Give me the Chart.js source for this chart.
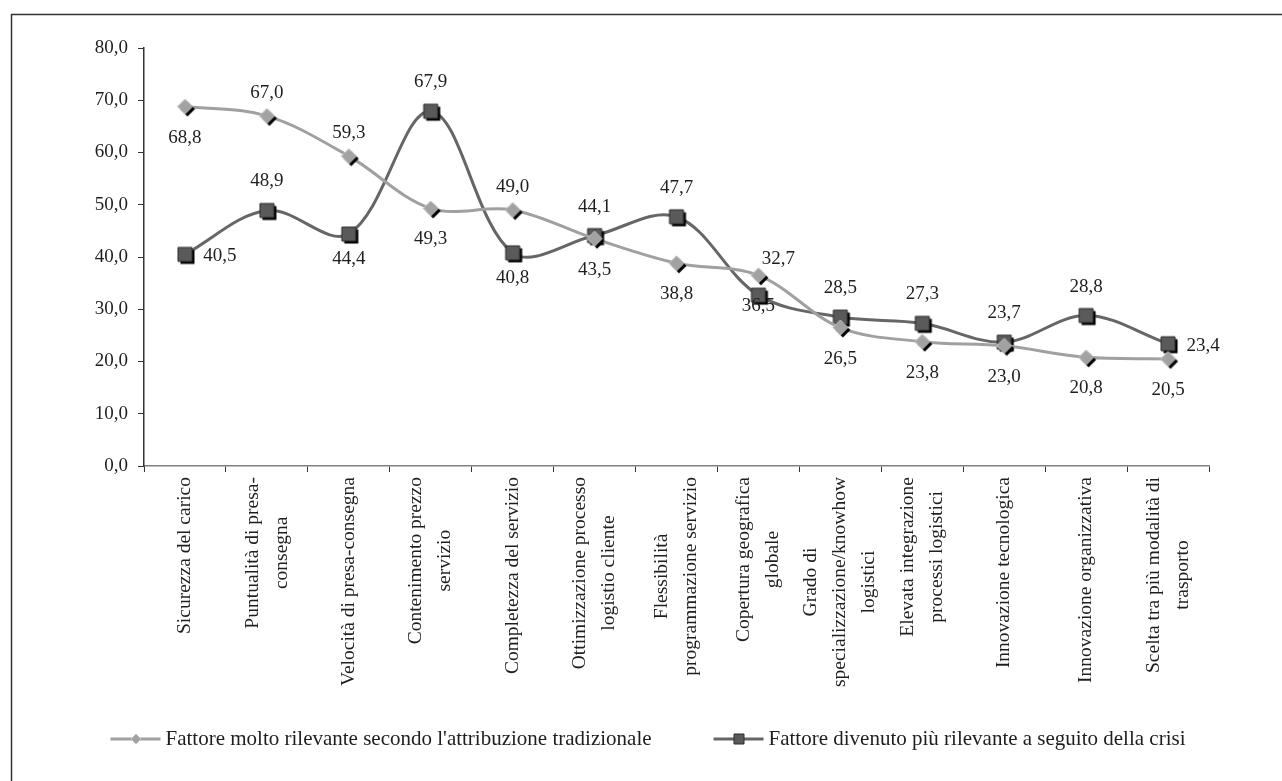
<!DOCTYPE html>
<html lang="it">
<head>
<meta charset="utf-8">
<title>Fattori di rilevanza del servizio logistico</title>
<script src="https://cdn.jsdelivr.net/npm/chart.js@4.4.1/dist/chart.umd.min.js"></script>
<style>
  html, body { margin: 0; padding: 0; background: #fff; }
  canvas { display: block; }
</style>
</head>
<body>
<canvas id="chart" width="1282" height="781"></canvas>
<script>
const categories = [
    'Sicurezza del carico',
    ['Puntualità di presa-', 'consegna'],
    'Velocità di presa-consegna',
    ['Contenimento prezzo', 'servizio'],
    'Completezza del servizio',
    ['Ottimizzazione processo', 'logistio cliente'],
    ['Flessibilità', 'programmazione servizio'],
    ['Copertura geografica', 'globale'],
    ['Grado di', 'specializzazione/knowhow', 'logistici'],
    ['Elevata integrazione', 'processi logistici'],
    'Innovazione tecnologica',
    'Innovazione organizzativa',
    ['Scelta tra più modalità di', 'trasporto']
];

const seriesNames = [
    "Fattore molto rilevante secondo l'attribuzione tradizionale",
    'Fattore divenuto più rilevante a seguito della crisi'
];

const traditional = [68.8, 67.0, 59.3, 49.3, 49.0, 43.5, 38.8, 36.5, 26.5, 23.8, 23.0, 20.8, 20.5];
const afterCrisis = [40.5, 48.9, 44.4, 67.9, 40.8, 44.1, 47.7, 32.7, 28.5, 27.3, 23.7, 28.8, 23.4];

const yMin = 0;
const yMax = 80;
const yStep = 10;

// where each value label sits relative to its marker
const traditionalLabelPos = ['below', 'above', 'above', 'below', 'above', 'below', 'below',
    'below', 'below', 'below', 'below', 'below', 'below'];
const afterCrisisLabelPos = ['right', 'above', 'below', 'above', 'below', 'above', 'above',
    'aboveRight', 'above', 'above', 'above', 'above', 'right'];

const SERIF = '"Liberation Serif", "Times New Roman", Times, serif';
const TEXT = '#1e1e1e';

const fmt = v => v.toFixed(1).replace('.', ',');

// marker sprite with the hard black drop shadow
function makeMarker(shape, half, fill, stroke, shadow) {
    const c = document.createElement('canvas');
    const size = half * 2 + 10;
    c.width = size;
    c.height = size;
    const g = c.getContext('2d');
    const m = size / 2;
    const path = (cx, cy) => {
        g.beginPath();
        if (shape === 'diamond') {
            g.moveTo(cx, cy - half);
            g.lineTo(cx + half, cy);
            g.lineTo(cx, cy + half);
            g.lineTo(cx - half, cy);
        } else {
            g.rect(cx - half, cy - half, half * 2, half * 2);
        }
        g.closePath();
    };
    if (shadow) {
        path(m + 2.5, m + 2.5);
        g.fillStyle = '#000';
        g.fill();
    }
    path(m, m);
    g.fillStyle = fill;
    g.fill();
    g.lineWidth = 1;
    g.strokeStyle = stroke;
    g.stroke();
    return c;
}

const diamondMarker = makeMarker('diamond', 7.5, '#a2a2a2', '#c6c6c6', true);
const squareMarker = makeMarker('square', 7, '#5a5a5a', '#2c2c2c', true);
const diamondSmall = makeMarker('diamond', 5, '#a2a2a2', '#c6c6c6', false);
const squareSmall = makeMarker('square', 5, '#5a5a5a', '#2c2c2c', false);

const frame = {
    id: 'frame',
    beforeDraw(chart) {
        const ctx = chart.ctx;
        ctx.save();
        ctx.fillStyle = '#fff';
        ctx.fillRect(0, 0, chart.width, chart.height);
        ctx.strokeStyle = '#333';
        ctx.lineWidth = 1.5;
        ctx.strokeRect(11.5, 14.5, chart.width + 20, chart.height + 20);
        ctx.restore();
    }
};

const valueLabels = {
    id: 'valueLabels',
    afterDatasetsDraw(chart) {
        const ctx = chart.ctx;
        ctx.save();
        ctx.font = `19px ${SERIF}`;
        ctx.fillStyle = TEXT;
        ctx.textAlign = 'center';
        ctx.textBaseline = 'middle';
        chart.data.datasets.forEach((ds, di) => {
            const meta = chart.getDatasetMeta(di);
            meta.data.forEach((pt, i) => {
                const [dx, dy] = ds.labelOffsets[ds.labelPos[i]];
                ctx.fillText(fmt(ds.data[i]), pt.x + dx, pt.y + dy);
            });
        });
        ctx.restore();
    }
};

const categoryLabels = {
    id: 'categoryLabels',
    afterDraw(chart) {
        const scale = chart.scales.x;
        const ctx = chart.ctx;
        const lineGap = 29;
        ctx.save();
        ctx.font = `19.5px ${SERIF}`;
        ctx.fillStyle = TEXT;
        ctx.textAlign = 'center';
        ctx.textBaseline = 'middle';
        categories.forEach((label, i) => {
            const lines = Array.isArray(label) ? label : [label];
            const widest = Math.max(...lines.map(l => ctx.measureText(l).width));
            ctx.save();
            ctx.translate(scale.getPixelForValue(i), scale.top + 11);
            ctx.rotate(-Math.PI / 2);
            lines.forEach((line, k) => {
                ctx.fillText(line, -widest / 2, (k - (lines.length - 1) / 2) * lineGap);
            });
            ctx.restore();
        });
        ctx.restore();
    }
};

const lineLegend = {
    id: 'lineLegend',
    afterDraw(chart) {
        const ctx = chart.ctx;
        const iconW = 50;
        const gap = 5;
        const spacing = 62;
        const y = chart.height - 42;
        ctx.save();
        ctx.font = `21px ${SERIF}`;
        const items = chart.data.datasets.map(ds => ({
            ds,
            w: ctx.measureText(ds.label).width
        }));
        const total = items.reduce((s, it) => s + iconW + gap + it.w, 0) + spacing * (items.length - 1);
        let x = chart.width / 2 + 7 - total / 2;
        items.forEach(({ ds, w }) => {
            ctx.beginPath();
            ctx.moveTo(x, y);
            ctx.lineTo(x + iconW, y);
            ctx.lineWidth = 3;
            ctx.strokeStyle = ds.borderColor;
            ctx.stroke();
            const icon = ds.legendIcon;
            ctx.drawImage(icon, Math.round(x + iconW / 2 - icon.width / 2), Math.round(y - icon.height / 2));
            ctx.fillStyle = TEXT;
            ctx.textAlign = 'left';
            ctx.textBaseline = 'middle';
            ctx.fillText(ds.label, x + iconW + gap, y);
            x += iconW + gap + w + spacing;
        });
        ctx.restore();
    }
};

new Chart(document.getElementById('chart'), {
    type: 'line',
    data: {
        labels: categories,
        datasets: [{
            label: seriesNames[0],
            data: traditional,
            borderColor: '#a0a0a0',
            borderWidth: 3,
            tension: 0.35,
            pointStyle: diamondMarker,
            legendIcon: diamondSmall,
            labelPos: traditionalLabelPos,
            labelOffsets: { above: [0, -23], below: [0, 31] }
        }, {
            label: seriesNames[1],
            data: afterCrisis,
            borderColor: '#666666',
            borderWidth: 3,
            tension: 0.35,
            pointStyle: squareMarker,
            legendIcon: squareSmall,
            labelPos: afterCrisisLabelPos,
            labelOffsets: { above: [0, -29], below: [0, 25], right: [35, 2], aboveRight: [20, -36] }
        }]
    },
    options: {
        responsive: false,
        animation: false,
        events: [],
        layout: { padding: { top: 48, right: 73, left: 0, bottom: 0 } },
        plugins: {
            legend: { display: false },
            tooltip: { enabled: false }
        },
        scales: {
            x: {
                offset: true,
                grid: {
                    offset: true,
                    drawOnChartArea: false,
                    tickLength: 6,
                    color: '#333'
                },
                border: { color: '#808080', width: 1.5 },
                ticks: { display: false },
                afterFit(scale) { scale.height = 315; }
            },
            y: {
                min: yMin,
                max: yMax,
                grid: {
                    drawOnChartArea: false,
                    tickLength: 6,
                    color: '#333'
                },
                border: { color: '#333', width: 1.5 },
                ticks: {
                    stepSize: yStep,
                    padding: 10,
                    color: TEXT,
                    font: { family: SERIF, size: 19 },
                    callback: v => fmt(v)
                },
                afterFit(scale) { scale.width = 144; }
            }
        }
    },
    plugins: [frame, valueLabels, categoryLabels, lineLegend]
});
</script>
</body>
</html>
